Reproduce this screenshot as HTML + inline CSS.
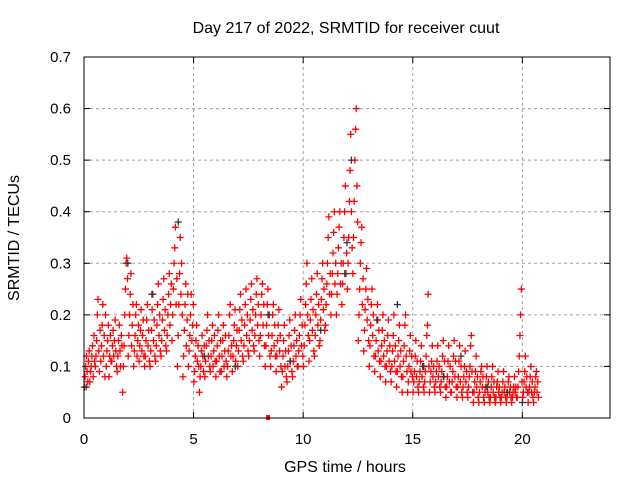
<!DOCTYPE html>
<html><head><meta charset="utf-8"><style>
body{margin:0;background:#fff;}
svg{display:block;font-family:"Liberation Sans",sans-serif;}
</style></head><body>
<svg id="chart" width="640" height="480">
<rect width="640" height="480" fill="#fff"/>
<text x="346" y="33" text-anchor="middle" font-size="16">Day 217 of 2022, SRMTID for receiver cuut</text>
<text transform="translate(19,238) rotate(-90)" text-anchor="middle" font-size="16">SRMTID / TECUs</text>
<text x="345" y="472" text-anchor="middle" font-size="16">GPS time / hours</text>
<g id="grid"></g><g id="ticks"></g><g id="marks"></g>
<rect x="84" y="57" width="526" height="361" fill="none" stroke="#000" stroke-width="1"/>
</svg>
<script>
const xTicks=[0,5,10,15,20];
const yTicks=[0,0.1,0.2,0.3,0.4,0.5,0.6,0.7];
const yTickLabels=["0","0.1","0.2","0.3","0.4","0.5","0.6","0.7"];
const binWidth=0.25;
const binStarts=[0,0.25,0.5,0.75,1,1.25,1.5,1.75,2,2.25,2.5,2.75,3,3.25,3.5,3.75,4,4.25,4.5,4.75,5,5.25,5.5,5.75,6,6.25,6.5,6.75,7,7.25,7.5,7.75,8,8.25,8.5,8.75,9,9.25,9.5,9.75,10,10.25,10.5,10.75,11,11.25,11.5,11.75,12,12.25,12.5,12.75,13,13.25,13.5,13.75,14,14.25,14.5,14.75,15,15.25,15.5,15.75,16,16.25,16.5,16.75,17,17.25,17.5,17.75,18,18.25,18.5,18.75,19,19.25,19.5,19.75,20,20.25,20.5];
const redValues=[
[.06,.08,.1,.12,.09,.07,.11,.13],[.07,.09,.1,.12,.14,.08,.16,.11],[.1,.12,.15,.2,.23,.13,.09,.17],[.11,.14,.18,.22,.12,.16,.08,.2],
[.1,.13,.15,.18,.08,.12,.16,.11],[.11,.14,.17,.12,.15,.19,.13,.1],[.09,.12,.15,.18,.13,.1,.16,.14],[.05,.1,.14,.2,.25,.3,.31,.27],
[.12,.16,.2,.24,.28,.14,.18,.22],[.1,.13,.16,.2,.22,.12,.15,.18],[.11,.14,.17,.21,.13,.16,.19,.12],[.1,.12,.15,.19,.22,.14,.17,.11],
[.1,.13,.17,.21,.24,.15,.19,.12],[.11,.14,.18,.22,.26,.16,.2,.13],[.12,.15,.19,.23,.27,.17,.21,.14],[.13,.16,.2,.24,.28,.18,.22,.26],
[.15,.2,.25,.3,.33,.37,.22,.27],[.1,.16,.22,.28,.35,.24,.3,.2],[.08,.12,.17,.22,.26,.14,.19,.24],[.1,.13,.16,.2,.24,.15,.18,.22],
[.07,.09,.12,.15,.18,.11,.14,.1],[.05,.08,.1,.13,.16,.12,.09,.14],[.08,.11,.14,.17,.2,.12,.15,.1],[.09,.12,.15,.18,.1,.13,.16,.11],
[.08,.11,.14,.17,.2,.12,.09,.15],[.09,.12,.15,.18,.1,.13,.16,.11],[.08,.1,.13,.16,.2,.22,.12,.14],[.09,.12,.15,.18,.21,.11,.14,.17],
[.1,.13,.17,.21,.24,.15,.19,.12],[.11,.14,.18,.22,.25,.16,.2,.13],[.12,.15,.19,.23,.26,.17,.21,.14],[.13,.16,.2,.24,.27,.18,.22,.15],
[.12,.16,.2,.24,.26,.18,.22,.14],[.1,.14,.18,.22,.25,.16,.2,.12],[.1,.13,.16,.2,.22,.14,.18,.12],[.09,.12,.15,.18,.21,.13,.16,.1],
[.06,.09,.12,.15,.18,.1,.13,.08],[.07,.1,.13,.16,.19,.11,.14,.09],[.08,.11,.14,.17,.2,.12,.15,.1],[.1,.13,.16,.2,.23,.14,.18,.12],
[.1,.14,.18,.22,.26,.3,.2,.16],[.11,.15,.19,.23,.27,.17,.21,.13],[.12,.16,.2,.24,.28,.18,.22,.14],[.15,.19,.23,.27,.3,.21,.25,.17],
[.18,.22,.26,.3,.35,.39,.24,.28],[.2,.24,.28,.32,.36,.4,.26,.3],[.2,.24,.28,.33,.37,.4,.26,.3],[.22,.26,.3,.35,.4,.45,.28,.32],
[.25,.3,.35,.42,.48,.55,.4,.33],[.28,.35,.42,.5,.56,.6,.45,.38],[.15,.2,.25,.3,.34,.37,.22,.27],[.13,.17,.21,.25,.29,.19,.23,.15],
[.1,.14,.18,.22,.25,.16,.2,.12],[.09,.12,.15,.19,.22,.13,.17,.11],[.08,.11,.14,.17,.2,.12,.15,.1],[.07,.1,.13,.16,.19,.11,.14,.09],
[.07,.1,.13,.16,.2,.11,.14,.09],[.06,.09,.12,.15,.18,.1,.13,.08],[.05,.08,.11,.14,.18,.2,.12,.09],[.05,.07,.1,.13,.16,.09,.12,.08],
[.05,.07,.09,.12,.15,.08,.11,.06],[.05,.07,.09,.11,.14,.08,.1,.06],[.05,.07,.09,.12,.16,.18,.24,.1],[.05,.07,.09,.11,.14,.08,.1,.06],
[.05,.07,.09,.11,.14,.08,.1,.06],[.05,.07,.09,.12,.15,.08,.11,.06],[.04,.06,.08,.11,.14,.07,.1,.05],[.05,.07,.09,.12,.15,.08,.11,.06],
[.04,.06,.08,.11,.14,.07,.1,.05],[.04,.06,.08,.1,.13,.07,.09,.05],[.04,.06,.08,.1,.14,.16,.09,.05],[.03,.05,.07,.09,.12,.06,.08,.04],
[.03,.05,.07,.09,.1,.06,.08,.04],[.03,.05,.06,.08,.1,.05,.07,.04],[.03,.04,.06,.08,.1,.05,.07,.04],[.03,.04,.06,.07,.09,.05,.06,.04],
[.03,.04,.05,.07,.09,.05,.06,.04],[.03,.04,.05,.07,.08,.05,.06,.04],[.03,.04,.05,.06,.08,.05,.06,.04],[.04,.06,.09,.12,.16,.2,.25,.07],
[.04,.05,.07,.09,.12,.06,.08,.05],[.03,.05,.06,.08,.1,.05,.07,.04],[.03,.05,.06,.08,.09,.05,.07,.04]];
const darkTimes=[0.1,2.0,4.3,6.9,8.4,11.9,12.2,12.0,13.4,15.5,16.4,17.2,18.4,20.0,19.3,3.1,9.4,14.3,10.8,5.5];
const darkValues=[.06,.3,.38,.1,.2,.28,.5,.34,.19,.1,.08,.12,.06,.03,.05,.24,.11,.22,.17,.12];
const outlierTime=[8.4];
const outlierValue=[0];

const X0=84,X1=610,Y0=418,Y1=57;
const xs=h=>X0+h/24*(X1-X0);
const ys=v=>Y0-v/0.7*(Y0-Y1);
const NS="http://www.w3.org/2000/svg";
const grid=document.getElementById('grid'),ticks=document.getElementById('ticks'),marks=document.getElementById('marks');
function mk(tag,attrs,parent){const e=document.createElementNS(NS,tag);for(const k in attrs)e.setAttribute(k,attrs[k]);parent.appendChild(e);return e;}
yTicks.forEach((v,i)=>{const y=ys(v);
 if(i>0&&i<yTicks.length-1){const g=mk('line',{x1:X0,x2:X1,y1:y,y2:y,stroke:'#a0a0a0','stroke-dasharray':'3,3'},grid);
 
 }
 mk('line',{x1:X0,x2:X0+6,y1:y,y2:y,stroke:'#000'},ticks);
 mk('line',{x1:X1,x2:X1-6,y1:y,y2:y,stroke:'#000'},ticks);
 const t=mk('text',{x:X0-13,y:y+5,'text-anchor':'end','font-size':15},ticks);t.textContent=yTickLabels[i];
 
 });
xTicks.forEach(h=>{const x=xs(h);
 if(h>0){const g=mk('line',{x1:x,x2:x,y1:Y0,y2:Y1,stroke:'#a0a0a0','stroke-dasharray':'3,3'},grid);
 
 }
 mk('line',{x1:x,x2:x,y1:Y0,y2:Y0-6,stroke:'#000'},ticks);
 mk('line',{x1:x,x2:x,y1:Y1,y2:Y1+6,stroke:'#000'},ticks);
 const t=mk('text',{x:x,y:Y0+26,'text-anchor':'middle','font-size':15},ticks);t.textContent=h;
 
 });
function plus(h,v,c,name){const x=xs(h),y=ys(v);
 const p=mk('path',{d:`M${x-3.5},${y}H${x+3.5}M${x},${y-3.5}V${y+3.5}`,stroke:c,'stroke-width':1.3,fill:'none'},marks);
 
 }
binStarts.forEach((b,i)=>{const vals=redValues[i];
 vals.forEach((v,j)=>plus(b+binWidth*(j+0.5)/vals.length,v,'#ff0000','srmtid-point'));});
darkTimes.forEach((h,i)=>plus(h,darkValues[i],'#333333','srmtid-point-dark'));
outlierTime.forEach((h,i)=>{const r=mk('rect',{x:xs(h)-2,y:ys(outlierValue[i])-3,width:4,height:5,fill:'#ff0000'},marks);
 
 });
</script>
</body></html>
